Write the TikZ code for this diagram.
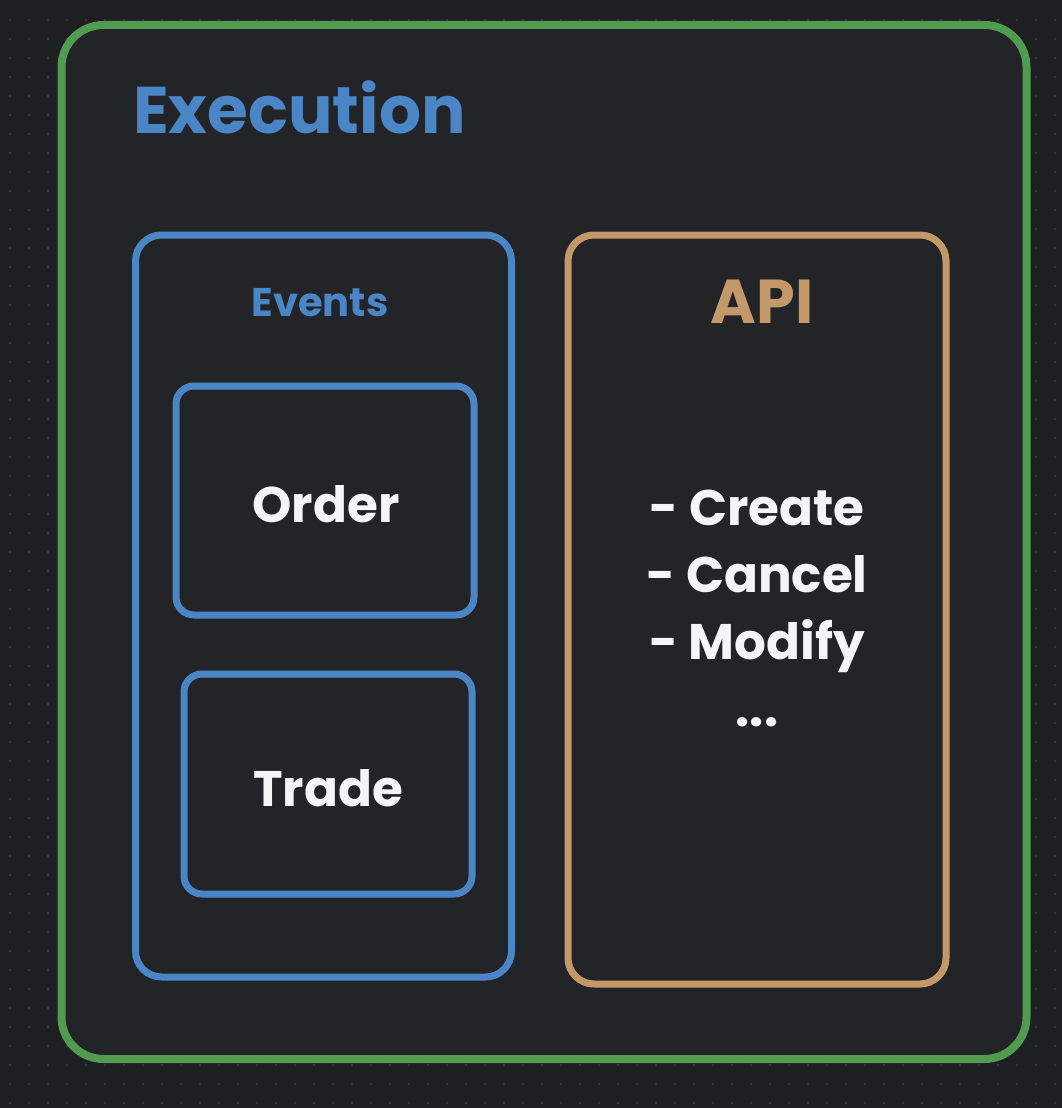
\documentclass[tikz,border=0pt]{standalone}
\usepackage{fontspec}
\setmainfont{Poppins}
\definecolor{bgc}{HTML}{1E1F23}
\definecolor{inner}{HTML}{232428}
\definecolor{dotc}{HTML}{34363B}
\definecolor{grn}{HTML}{509B4F}
\definecolor{blu}{HTML}{4A85C6}
\definecolor{tan}{HTML}{C4996A}
\definecolor{txt}{HTML}{F4F5F6}
\tikzset{
  box/.style={draw, rounded corners=26pt, fill=inner, line width=7pt, inner sep=0pt},
  lbl/.style={text=txt, font=\fontsize{50}{60}\selectfont\bfseries, inner sep=0pt, anchor=base},
}
\begin{document}
\begin{tikzpicture}[x=1pt,y=-1pt]
\fill[bgc] (0,0) rectangle (1062,1108);
\useasboundingbox (0,0) rectangle (1062,1108);
\foreach \i in {0,...,55} {\foreach \j in {0,...,58} {
  \fill[dotc] (10+19*\i, 20+19*\j) circle (1.6);
}}
\node[box, draw=grn, line width=8pt, rounded corners=42pt, minimum width=965pt, minimum height=1034pt] (exec) at (544,542) {};
\node[box, draw=blu, minimum width=376pt, minimum height=742pt] (events) at (323.5,606) {};
\node[box, draw=tan, minimum width=378pt, minimum height=749pt] (api) at (757,609.5) {};
\node[box, draw=blu, rounded corners=18pt, minimum width=298pt, minimum height=229pt] (order) at (325,500.5) {};
\node[box, draw=blu, rounded corners=18pt, minimum width=288pt, minimum height=220pt] (trade) at (328,784) {};
\node[lbl, text=blu, font=\fontsize{66}{70}\selectfont\bfseries, anchor=base west] (title) at (133,133) {Execution};
\node[lbl, text=blu, font=\fontsize{40}{48}\selectfont\bfseries] (evlbl) at (320,316) {Events};
\node[lbl, text=tan, font=\fontsize{62}{70}\selectfont\bfseries] (apilbl) at (762,323) {API};
\node[lbl] (ordlbl) at (326,522) {Order};
\node[lbl] (trdlbl) at (328,806) {Trade};
\node[lbl] (l1) at (757,525) {- Create};
\node[lbl] (l2) at (757,592) {- Cancel};
\node[lbl] (l3) at (757,659) {- Modify};
\node[lbl] (l4) at (757,726) {...};
\end{tikzpicture}
\end{document}
